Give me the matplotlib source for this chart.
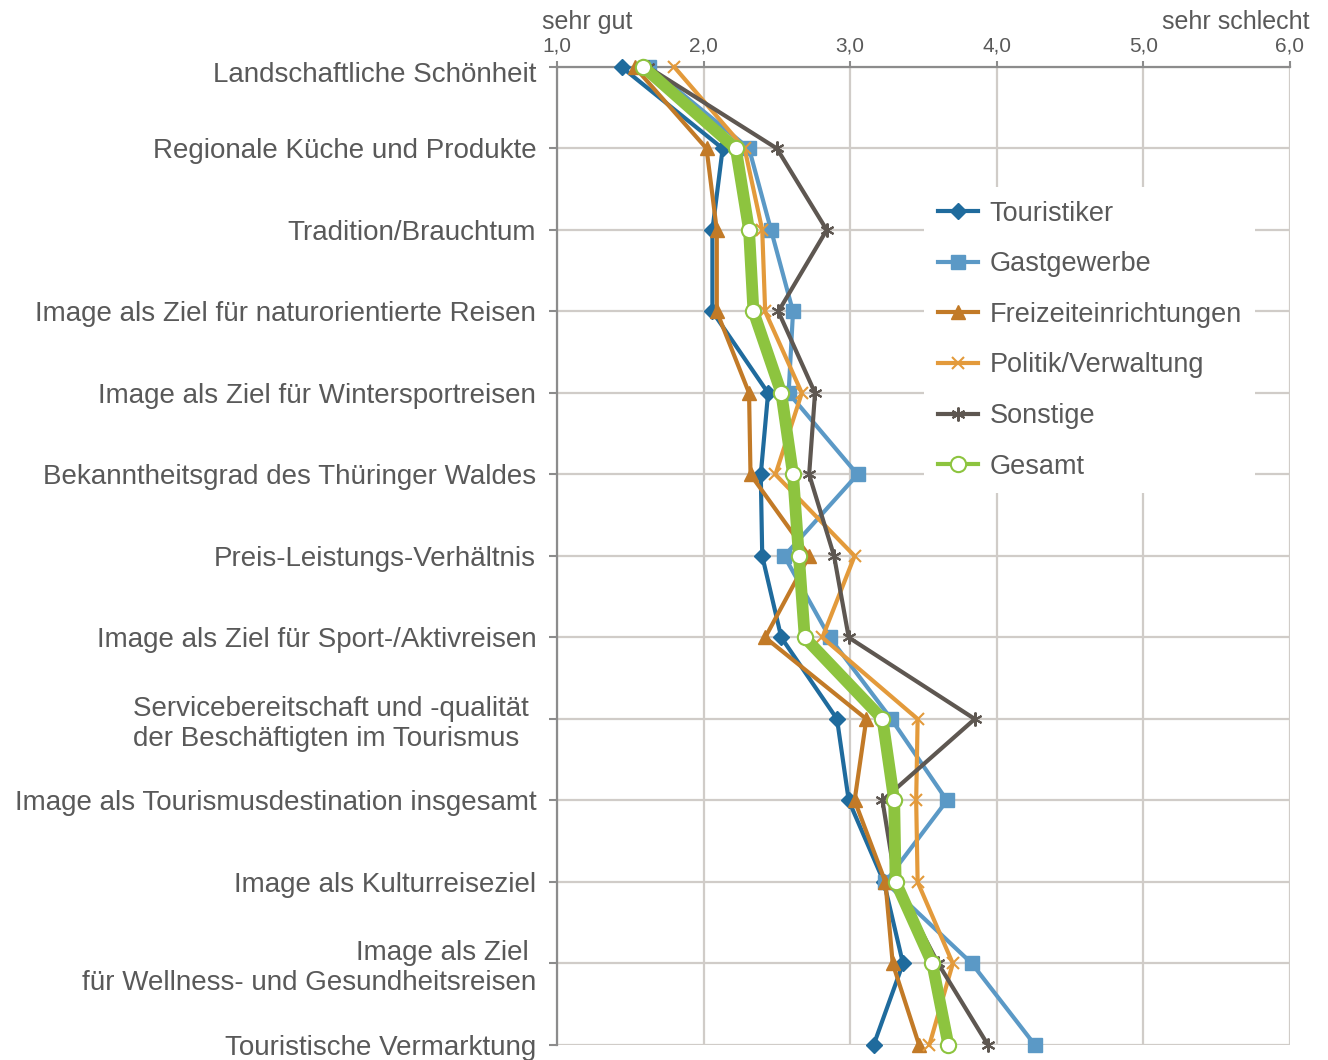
import matplotlib.pyplot as plt
import matplotlib.transforms as mtransforms
import numpy as np

plt.rcParams['font.family'] = ['Liberation Sans', 'DejaVu Sans']

kategorien = [
    'Landschaftliche Schönheit',
    'Regionale Küche und Produkte',
    'Tradition/Brauchtum',
    'Image als Ziel für naturorientierte Reisen',
    'Image als Ziel für Wintersportreisen',
    'Bekanntheitsgrad des Thüringer Waldes',
    'Preis-Leistungs-Verhältnis',
    'Image als Ziel für Sport-/Aktivreisen',
    'Servicebereitschaft und -qualität \nder Beschäftigten im Tourismus',
    'Image als Tourismusdestination insgesamt',
    'Image als Kulturreiseziel',
    'Image als Ziel \nfür Wellness- und Gesundheitsreisen',
    'Touristische Vermarktung',
]

touristiker = [1.44, 2.13, 2.06, 2.06, 2.44, 2.39, 2.40, 2.53, 2.91, 2.99, 3.23, 3.36, 3.16]
gastgewerbe = [1.63, 2.31, 2.46, 2.61, 2.58, 3.05, 2.55, 2.86, 3.28, 3.66, 3.24, 3.83, 4.26]
freizeit = [1.53, 2.02, 2.09, 2.09, 2.31, 2.32, 2.72, 2.42, 3.11, 3.03, 3.24, 3.29, 3.47]
politik = [1.80, 2.28, 2.40, 2.42, 2.67, 2.49, 3.03, 2.81, 3.46, 3.45, 3.46, 3.70, 3.54]
sonstige = [1.62, 2.50, 2.84, 2.51, 2.76, 2.72, 2.89, 2.99, 3.85, 3.22, 3.31, 3.60, 3.94]
gesamt = [1.59, 2.22, 2.31, 2.34, 2.53, 2.61, 2.65, 2.69, 3.22, 3.30, 3.31, 3.56, 3.67]

x_ticks = [1, 2, 3, 4, 5, 6]
x_labels = ['1,0', '2,0', '3,0', '4,0', '5,0', '6,0']

grau = '#595959'
gitter = '#d0ccc8'
achse = '#8c8c8c'

fig = plt.figure(figsize=(13.28, 10.6), dpi=100)
ax = fig.add_axes([557 / 1328, 1 - 1045 / 1060, 733 / 1328, 978 / 1060])

y = np.arange(len(kategorien))

ax.plot(touristiker, y, color='#1f6b9d', lw=3, marker='D', ms=8,
        label='Touristiker', clip_on=False, zorder=3)
ax.plot(gastgewerbe, y, color='#5b99c6', lw=3, marker='s', ms=10,
        label='Gastgewerbe', clip_on=False, zorder=3)
ax.plot(freizeit, y, color='#c27a27', lw=3, marker='^', ms=10,
        label='Freizeiteinrichtungen', clip_on=False, zorder=3)
ax.plot(politik, y, color='#e39a3b', lw=3, marker='x', ms=9, mew=1.5,
        label='Politik/Verwaltung', clip_on=False, zorder=3)
ax.plot(sonstige, y, color='#5e5751', lw=3, marker=(6, 2, 0), ms=10, mew=1.5,
        label='Sonstige', clip_on=False, zorder=3)
ax.plot(gesamt, y, color='#8dc43f', lw=8.5, marker='o', ms=11,
        mfc='white', mec='#8dc43f', mew=1.5,
        label='Gesamt', clip_on=False, zorder=4)

ax.set_xlim(1, 6)
ax.set_ylim(len(kategorien) - 1, 0)

ax.xaxis.tick_top()
ax.set_xticks(x_ticks)
ax.set_xticklabels(x_labels)
ax.tick_params(axis='x', length=4, width=1.5, color=achse, direction='out',
               pad=4, labelsize=15, labelcolor=grau)

ax.set_yticks(y)
ax.set_yticklabels(kategorien)
ax.tick_params(axis='y', length=6, width=1.5, color=achse, direction='out',
               pad=9, labelsize=20, labelcolor=grau)
ylabels = ax.get_yticklabels()
ylabels[8].set_multialignment('left')
# erste Beschriftung etwas nach unten, weg von der oberen Achse
ylabels[0].set_transform(ylabels[0].get_transform()
                         + mtransforms.ScaledTranslation(0, -0.05, fig.dpi_scale_trans))

ax.grid(True, color=gitter, lw=1.6, zorder=0)
ax.set_axisbelow(True)
for side in ['right', 'bottom']:
    ax.spines[side].set_visible(False)
for side in ['top', 'left']:
    ax.spines[side].set_color(achse)
    ax.spines[side].set_linewidth(1.6)

fig.text(542 / 1328, 1 - 22 / 1060, 'sehr gut', fontsize=18, color=grau,
         ha='left', va='center')
fig.text(1309 / 1328, 1 - 22 / 1060, 'sehr schlecht', fontsize=18, color=grau,
         ha='right', va='center')

leg = ax.legend(loc='upper left', bbox_to_anchor=(924 / 1328, 1 - 187 / 1060),
                bbox_transform=fig.transFigure, fontsize=19.5, frameon=True,
                facecolor='white', edgecolor='none', framealpha=1,
                fancybox=False, borderaxespad=0, borderpad=0.5,
                handlelength=1.48, handletextpad=0.44, labelspacing=0.91)
for t in leg.get_texts():
    t.set_color(grau)
leg.get_lines()[5].set_linewidth(3)
leg.set_zorder(5)

fig.savefig('out.png', dpi=100)
